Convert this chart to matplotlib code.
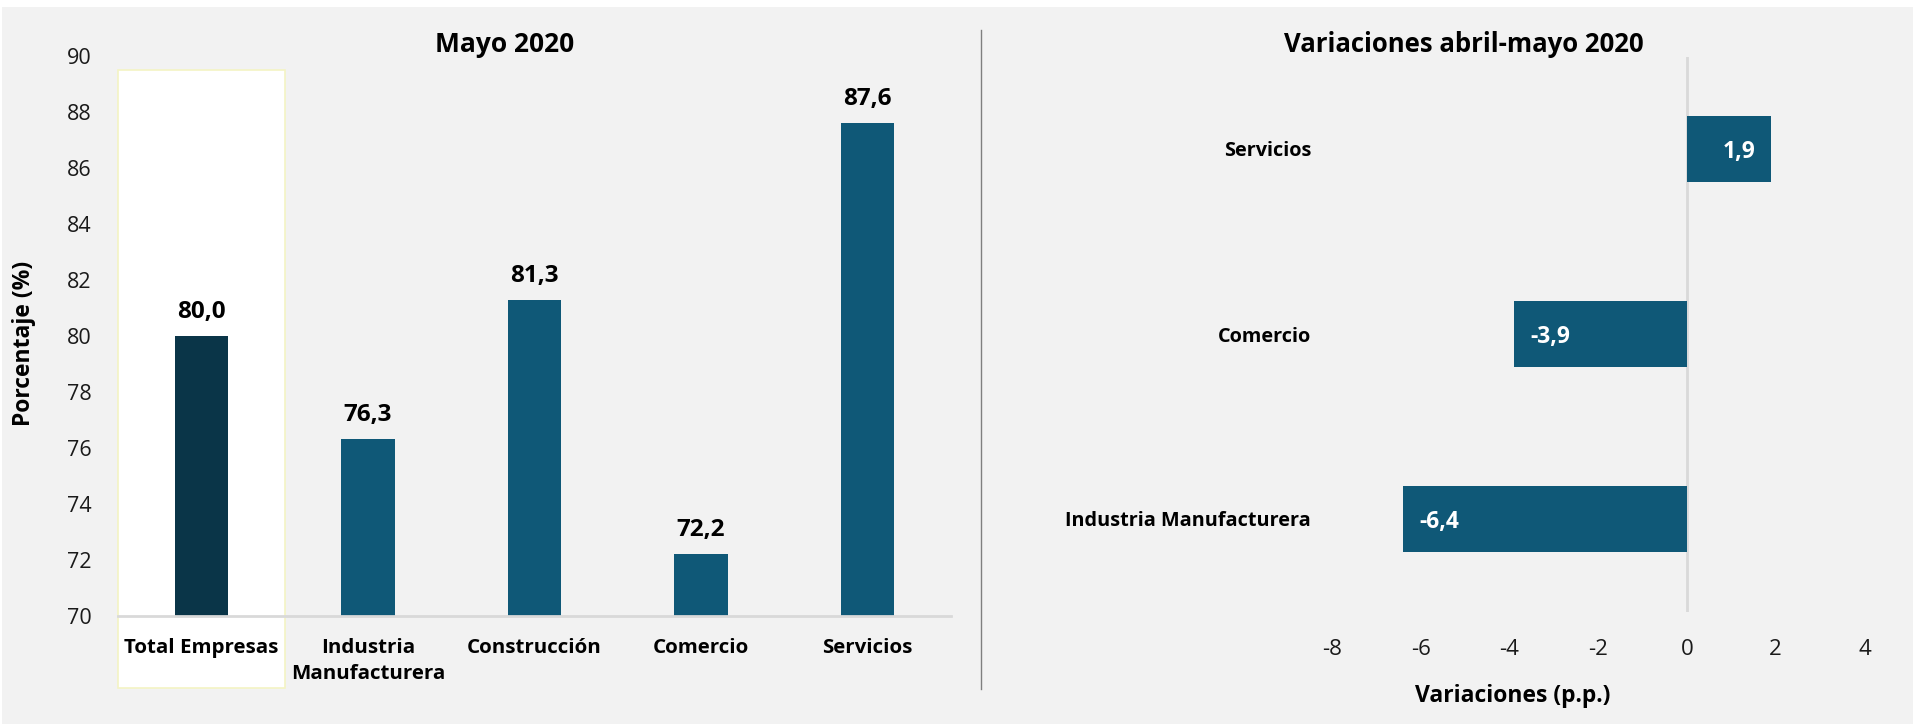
import matplotlib
matplotlib.use("Agg")
import matplotlib.pyplot as plt
from matplotlib.patches import Rectangle
from matplotlib.lines import Line2D
from matplotlib.ticker import FixedLocator, FuncFormatter

plt.rcParams['font.family'] = ['Open Sans', 'DejaVu Sans']
plt.rcParams['axes.unicode_minus'] = False

# ---------------- data ----------------
categories = ["Total Empresas", "Industria\nManufacturera", "Construcción", "Comercio", "Servicios"]
values = [80.0, 76.3, 81.3, 72.2, 87.6]
y_ticks = [70, 72, 74, 76, 78, 80, 82, 84, 86, 88, 90]

var_categories = ["Industria Manufacturera", "Comercio", "Servicios"]
var_values = [-6.4, -3.9, 1.9]
x_ticks = [-8, -6, -4, -2, 0, 2, 4]

highlight = "Total Empresas"

# ---------------- styles ----------------
W, H = 1913, 724
BG = '#F2F2F2'
C_TOTAL = '#0A3548'
C_BAR = '#0F5877'


def fx(px):
    return px / W


def fy(py):
    return 1 - py / H


def fmt(v):
    return f"{v:.1f}".replace('.', ',')


fig = plt.figure(figsize=(W / 100, H / 100), dpi=100, facecolor='white')
fig.patches.append(Rectangle((fx(2), 0), 1, fy(7), transform=fig.transFigure,
                             facecolor=BG, edgecolor='none', zorder=-10))

# ---------------- left chart ----------------
L, R, T, B = 118.25, 950.75, 56.3, 615.7
ax1 = fig.add_axes([fx(L), fy(B), (R - L) / W, (B - T) / H])
ax1.set_facecolor('none')
xs = list(range(len(categories)))
colors = [C_TOTAL if c == highlight else C_BAR for c in categories]
ax1.bar(xs, values, width=0.32, color=colors, zorder=2)
ax1.set_xlim(-0.5, len(categories) - 0.5)
ax1.set_ylim(y_ticks[0], y_ticks[-1])
ax1.yaxis.set_major_locator(FixedLocator(y_ticks))
ax1.set_xticks(xs)
ax1.set_xticklabels(categories, fontsize=14.75, fontweight='bold', linespacing=1.4)
ax1.tick_params(axis='x', length=0, pad=16)
ax1.tick_params(axis='y', length=0, pad=19, labelsize=15.5, labelcolor='#1a1a1a')
for s in ['top', 'right', 'left']:
    ax1.spines[s].set_visible(False)
ax1.spines['bottom'].set_color('#D9D9D9')
ax1.spines['bottom'].set_linewidth(2)

hi = categories.index(highlight)
ax1.add_patch(Rectangle((hi - 0.5, 67.41), 1, 89.51 - 67.41, facecolor='white',
                        edgecolor='#F4F4C4', linewidth=1.2, clip_on=False, zorder=0.5))

for x, v in zip(xs, values):
    ax1.annotate(fmt(v), (x, v), xytext=(0, 13), textcoords='offset points',
                 ha='center', va='baseline', fontsize=17.5, fontweight='bold', color='black')

fig.text(fx(505), fy(51.5), "Mayo 2020", ha='center', va='baseline',
         fontsize=19, fontweight='bold')
fig.text(fx(24), fy(343.5), "Porcentaje (%)", rotation=90, ha='center', va='center',
         fontsize=16.5, fontweight='bold')

# separator
fig.add_artist(Line2D([fx(981), fx(981)], [fy(30), fy(689)], color='#7F7F7F', lw=1))

# ---------------- right chart ----------------
L2, R2, T2, B2 = 1332, 1864.5, 56.5, 611.5
ax2 = fig.add_axes([fx(L2), fy(B2), (R2 - L2) / W, (B2 - T2) / H])
ax2.set_facecolor('none')
ys = list(range(len(var_categories)))
ax2.barh(ys, var_values, height=0.357, color=C_BAR, zorder=2)
ax2.set_xlim(x_ticks[0], x_ticks[-1])
ax2.set_ylim(-0.5, len(var_categories) - 0.5)
ax2.xaxis.set_major_locator(FixedLocator(x_ticks))
ax2.xaxis.set_major_formatter(FuncFormatter(lambda v, p: f"{v:.0f}"))
ax2.set_yticks(ys)
ax2.set_yticklabels(var_categories, fontsize=14.3, fontweight='bold')
ax2.tick_params(axis='y', length=0, pad=15)
ax2.tick_params(axis='x', length=0, pad=20, labelsize=16, labelcolor='#1a1a1a')
for s in ax2.spines.values():
    s.set_visible(False)
ax2.axvline(0, color='#D9D9D9', lw=2, zorder=1)

for y, v in zip(ys, var_values):
    if v < 0:
        ax2.annotate(fmt(v), (v, y), xytext=(11.5, -2), textcoords='offset points',
                     ha='left', va='center', fontsize=16.5, fontweight='bold', color='white', zorder=3)
    else:
        ax2.annotate(fmt(v), (v, y), xytext=(-11.5, -2), textcoords='offset points',
                     ha='right', va='center', fontsize=16.5, fontweight='bold', color='white', zorder=3)

fig.text(fx(1464), fy(51.5), "Variaciones abril-mayo 2020", ha='center', va='baseline',
         fontsize=18.5, fontweight='bold')
fig.text(fx(1512.5), fy(702), "Variaciones (p.p.)", ha='center', va='baseline',
         fontsize=16.5, fontweight='bold')

fig.savefig("out.png", dpi=100, facecolor=fig.get_facecolor())
